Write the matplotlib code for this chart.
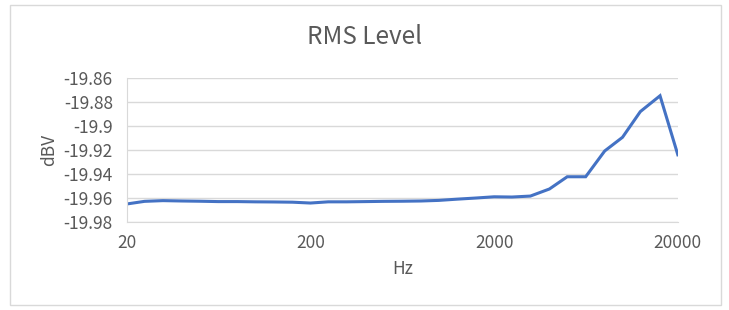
import numpy as np
import matplotlib
matplotlib.use('Agg')
import matplotlib.pyplot as plt
from matplotlib.patches import Rectangle

# 1/3 octave frequencies, Hz
freqs = [20, 25, 31.5, 40, 50, 63, 80, 100, 125, 160, 200, 250, 315, 400, 500,
         630, 800, 1000, 1250, 1600, 2000, 2500, 3150, 4000, 5000, 6300, 8000,
         10000, 12500, 16000, 20000]
# RMS level, dBV
levels = [-19.9650, -19.9628, -19.9622, -19.9625, -19.9627, -19.9630, -19.9630,
          -19.9632, -19.9633, -19.9635, -19.9642, -19.9632, -19.9632, -19.9630,
          -19.9628, -19.9627, -19.9625, -19.9620, -19.9610, -19.9600, -19.9590,
          -19.9592, -19.9584, -19.9525, -19.9423, -19.9423, -19.9208, -19.9094,
          -19.8880, -19.8748, -19.9240]
x_ticks = [20, 200, 2000, 20000]
y_ticks = [-19.86, -19.88, -19.90, -19.92, -19.94, -19.96, -19.98]
y_tick_labels = ['-19.86', '-19.88', '-19.9', '-19.92', '-19.94', '-19.96', '-19.98']

plt.rcParams['font.family'] = ['Noto Sans CJK SC', 'DejaVu Sans']
plt.rcParams['font.weight'] = 'light'
text_color = '#595959'
grid_color = '#D9D9D9'

fig = plt.figure(figsize=(7.29, 3.10), dpi=100)
fig.patches.append(Rectangle((9.5 / 729, 1 - 305 / 310), (721 - 9.5) / 729, (305 - 4.5) / 310,
                             transform=fig.transFigure, facecolor='none',
                             edgecolor=grid_color, linewidth=1))

ax = fig.add_axes([0.1738, 0.2839, 0.9298 - 0.1738, 0.7484 - 0.2839])
ax.plot(freqs, levels, color='#4472C4', linewidth=2.2, solid_joinstyle='miter')
ax.set_xscale('log')
ax.set_xlim(20, 20000)
ax.set_ylim(-19.98, -19.86)
ax.set_xticks(x_ticks)
ax.set_xticklabels([str(t) for t in x_ticks])
ax.xaxis.set_minor_locator(matplotlib.ticker.NullLocator())
ax.set_yticks(y_ticks)
ax.set_yticklabels(y_tick_labels)
ax.tick_params(length=0, labelsize=12.5, colors=text_color, pad=10)
ax.tick_params(axis='x', pad=8.5)
ax.grid(axis='y', color=grid_color, linewidth=1)
ax.set_axisbelow(True)
for side in ['top', 'right']:
    ax.spines[side].set_visible(False)
for side in ['left', 'bottom']:
    ax.spines[side].set_color(grid_color)

ax.set_xlabel('Hz', fontsize=12.5, color=text_color, labelpad=6)
ax.set_ylabel('dBV', fontsize=12.5, color=text_color, labelpad=4)
fig.text(365 / 729, 1 - 37 / 310, 'RMS Level', ha='center', va='center',
         fontsize=17.5, color=text_color)

fig.savefig('out.png', dpi=100)
